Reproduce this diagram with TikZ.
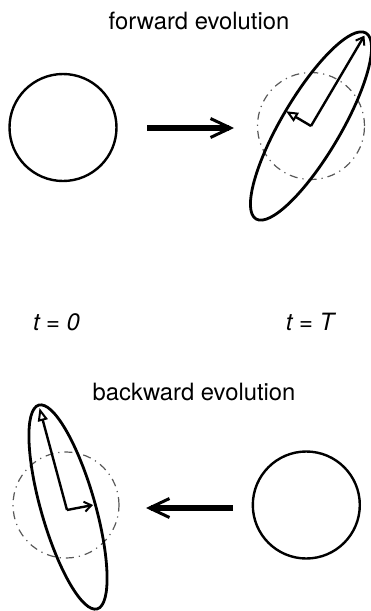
\documentclass[tikz,border=0pt]{standalone}
\usepackage{fontspec}
\setmainfont{TeX Gyre Heros}
\usetikzlibrary{arrows.meta}
\begin{document}
\begin{tikzpicture}[x=1pt,y=-1pt,
  lbl/.style={anchor=base, inner sep=0pt, font=\fontsize{23.8}{28}\selectfont},
  tlbl/.style={lbl, font=\fontsize{23.8}{28}\selectfont\itshape},
  circ/.style={circle, draw, line width=2.4pt, inner sep=0pt, minimum size=#1},
  ell/.style={draw, line width=2.8pt},
  ghost/.style={draw=black!65, line width=1.2pt, dash pattern=on 8pt off 5pt on 1.2pt off 5pt},
  bigarrow/.style={line width=6.5pt, -{Straight Barb[length=20pt,width=19pt,line width=3pt]}},
  vec/.style={line width=2.4pt},
  barbtip/.style={-{Straight Barb[length=7pt,width=10pt,line width=2pt]}},
  opentip/.style={-{Triangle[open,length=#1,width=10pt,line width=2pt]}},
]
\useasboundingbox (0,0) rectangle (370,611);

% labels
\node[lbl] (fw) at (199,29) {forward evolution};
\node[lbl] (bw) at (194,400) {backward evolution};
\node[tlbl] (t0) at (56.5,330) {t = 0};
\node[tlbl] (tT) at (310,330) {t = T};

% ---------- forward ----------
\node[circ=107pt] (c0) at (63,127.5) {};
\coordinate (fs) at (147,128);
\coordinate (fe) at (234,128);
\draw[bigarrow] (fs) -- (fe);

\coordinate (E1) at (311,126);
\draw[ghost] (E1) circle [radius=53.5pt];
\draw[ell, rotate around={59.4:(E1)}] (E1) ellipse [x radius=108pt, y radius=29.5pt];
\coordinate (M1) at (364.4,35.6);
\coordinate (m1) at (286,111.2);
\draw[vec, barbtip] (E1) -- (M1);
\draw[vec, opentip=12pt] (E1) -- (m1);

% ---------- backward ----------
\node[circ=107pt] (c1) at (306.3,505) {};
\coordinate (bs) at (233,508);
\coordinate (be) at (146,508);
\draw[bigarrow] (bs) -- (be);

\coordinate (E2) at (68,507);
\coordinate (V2) at (67,510);
\draw[ghost] (66,505) circle [radius=53pt];
\draw[ell, rotate around={106:(E2)}] (E2) ellipse [x radius=106pt, y radius=27pt];
\coordinate (M2) at (39.5,408);
\coordinate (m2) at (93,505);
\draw[vec, opentip=13pt] (V2) -- (M2);
\draw[vec, barbtip] (V2) -- (m2);
\end{tikzpicture}
\end{document}
